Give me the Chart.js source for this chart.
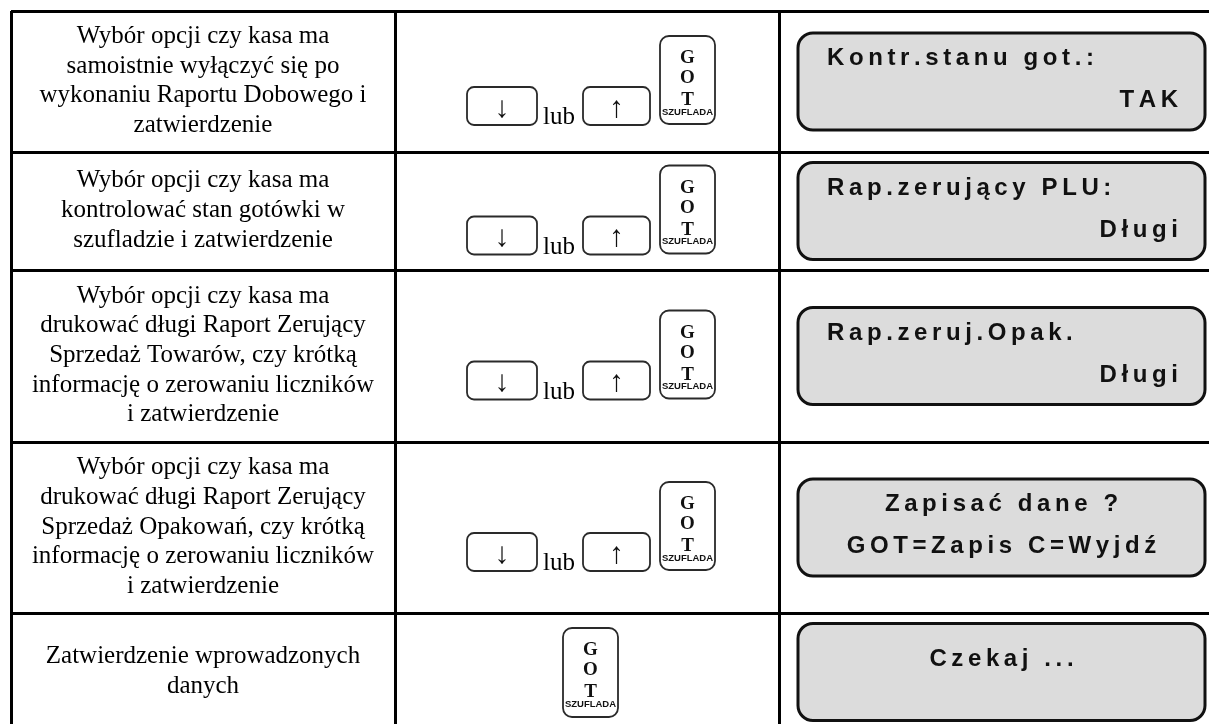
<!DOCTYPE html>
<html>
<head>
<meta charset="utf-8">
<script src="https://cdn.jsdelivr.net/npm/chart.js@4"></script>
<style>
  html, body { margin: 0; padding: 0; overflow: hidden; background: #fff; }
  #wrap { width: 1240px; height: 745px; }
</style>
</head>
<body>
<div id="wrap"><canvas id="table" width="1240" height="745"></canvas></div>
<script>
// cell contents, one entry per table row
const descriptions = [
  ["Wybór opcji czy kasa ma", "samoistnie wyłączyć się po", "wykonaniu Raportu Dobowego i", "zatwierdzenie"],
  ["Wybór opcji czy kasa ma", "kontrolować stan gotówki w", "szufladzie i zatwierdzenie"],
  ["Wybór opcji czy kasa ma", "drukować długi Raport Zerujący", "Sprzedaż Towarów, czy krótką", "informację o zerowaniu liczników", "i zatwierdzenie"],
  ["Wybór opcji czy kasa ma", "drukować długi Raport Zerujący", "Sprzedaż Opakowań, czy krótką", "informację o zerowaniu liczników", "i zatwierdzenie"],
  ["Zatwierdzenie wprowadzonych", "danych"]
];
const keys = [
  ["↓", "lub", "↑", "GOT"],
  ["↓", "lub", "↑", "GOT"],
  ["↓", "lub", "↑", "GOT"],
  ["↓", "lub", "↑", "GOT"],
  ["GOT"]
];
const gotLabel = ["G", "O", "T"];
const gotSub = "SZUFLADA";
const displayTop = ["Kontr.stanu got.:", "Rap.zerujący PLU:", "Rap.zeruj.Opak.", "Zapisać dane ?", "Czekaj ..."];
const displayBottom = ["TAK", "Długi", "Długi", "GOT=Zapis C=Wyjdź", ""];
const displayAlign = ["split", "split", "split", "center", "center"];

// table grid (scale units)
const colEdges = [0, 384, 768, 1213];
const rowEdges = [0, 141, 259, 431, 602, 720];

const mid = (a, i) => (a[i] + a[i + 1]) / 2;
function cellPoints(col) {
  return descriptions.map((d, i) => ({ x: mid(colEdges, col), y: mid(rowEdges, i) }));
}

function roundBox(ctx, x, y, w, h, r) {
  ctx.beginPath();
  ctx.moveTo(x + r, y);
  ctx.arcTo(x + w, y, x + w, y + h, r);
  ctx.arcTo(x + w, y + h, x, y + h, r);
  ctx.arcTo(x, y + h, x, y, r);
  ctx.arcTo(x, y, x + w, y, r);
  ctx.closePath();
}

function drawDescription(ctx, lines, cx, cy) {
  ctx.font = "25px 'Liberation Serif'";
  ctx.fillStyle = "#000";
  ctx.textAlign = "center";
  ctx.textBaseline = "alphabetic";
  const lh = 29.6;
  lines.forEach((t, k) => {
    ctx.fillText(t, cx, cy + 6 + (k - (lines.length - 1) / 2) * lh);
  });
}

function drawGot(ctx, x, y, w, h) {
  ctx.lineWidth = 1.8;
  ctx.strokeStyle = "#2a2a2a";
  roundBox(ctx, x, y, w, h, 9);
  ctx.stroke();
  ctx.fillStyle = "#111";
  ctx.textAlign = "center";
  ctx.textBaseline = "alphabetic";
  ctx.font = "bold 19px 'Liberation Serif'";
  const cx = x + w / 2;
  ctx.fillText(gotLabel[0], cx, y + 27);
  ctx.fillText(gotLabel[1], cx, y + 47);
  ctx.fillText(gotLabel[2], cx, y + 69);
  ctx.font = "bold 9.5px 'Liberation Sans'";
  ctx.fillText(gotSub, cx, y + 78.5);
}

function drawSmallKey(ctx, glyph, x, y, w, h) {
  ctx.lineWidth = 1.8;
  ctx.strokeStyle = "#2a2a2a";
  roundBox(ctx, x, y, w, h, 7);
  ctx.stroke();
  ctx.fillStyle = "#111";
  ctx.textAlign = "center";
  ctx.textBaseline = "middle";
  ctx.font = "30px 'Liberation Serif'";
  ctx.fillText(glyph, x + w / 2, y + 22);
}

function drawKeys(ctx, row, cx, cy) {
  if (row.length === 1) {
    drawGot(ctx, cx - 24, cy - 44, 55, 89);
    return;
  }
  const top = cy + 5.5;
  drawSmallKey(ctx, row[0], cx - 120, top, 70, 38);
  ctx.font = "25px 'Liberation Serif'";
  ctx.fillStyle = "#000";
  ctx.textAlign = "left";
  ctx.textBaseline = "alphabetic";
  ctx.fillText(row[1], cx - 44, cy + 42.5);
  drawSmallKey(ctx, row[2], cx - 4, top, 67, 38);
  drawGot(ctx, cx + 73, cy - 45.5, 55, 88);
}

function spacedText(ctx, text, x, y, align, gap) {
  const chars = Array.from(text);
  const widths = chars.map(c => ctx.measureText(c).width);
  const total = widths.reduce((a, b) => a + b, 0) + gap * (chars.length - 1);
  let pos = align === "left" ? x : align === "right" ? x - total : x - total / 2;
  ctx.textAlign = "left";
  chars.forEach((c, k) => {
    ctx.fillText(c, pos, y);
    pos += widths[k] + gap;
  });
}

function drawDisplay(ctx, top, bottom, align, cx, cy) {
  const w = 407, h = 97;
  const x = cx - w / 2, y = cy - h / 2;
  roundBox(ctx, x, y, w, h, 15);
  ctx.fillStyle = "#dcdcdc";
  ctx.fill();
  ctx.lineWidth = 3;
  ctx.strokeStyle = "#111";
  ctx.stroke();
  ctx.fillStyle = "#111";
  ctx.font = "bold 24px 'Liberation Sans'";
  ctx.textBaseline = "alphabetic";
  const gap = 4.6;
  if (align === "split") {
    spacedText(ctx, top, x + 29, y + 32, "left", gap);
    spacedText(ctx, bottom, x + w - 27, y + 74, "right", gap);
  } else if (bottom === "") {
    spacedText(ctx, top, cx, y + 42, "center", gap);
  } else {
    spacedText(ctx, top, cx, y + 32, "center", gap);
    spacedText(ctx, bottom, cx, y + 74, "center", gap);
  }
}

const tableCells = {
  id: "tableCells",
  afterDatasetsDraw(chart) {
    const ctx = chart.ctx;
    ctx.save();
    chart.getDatasetMeta(0).data.forEach((pt, i) => drawDescription(ctx, descriptions[i], pt.x, pt.y));
    chart.getDatasetMeta(1).data.forEach((pt, i) => drawKeys(ctx, keys[i], pt.x, pt.y));
    chart.getDatasetMeta(2).data.forEach((pt, i) =>
      drawDisplay(ctx, displayTop[i], displayBottom[i], displayAlign[i], pt.x, pt.y));
    ctx.restore();
  }
};

const gridAxis = (edges, extra) => Object.assign({
  type: "linear",
  min: edges[0],
  max: edges[edges.length - 1],
  afterBuildTicks: s => { s.ticks = edges.map(v => ({ value: v })); },
  ticks: { display: false },
  border: { display: false },
  grid: { color: "#000", lineWidth: 3, drawTicks: false }
}, extra);

new Chart(document.getElementById("table"), {
  type: "scatter",
  data: {
    datasets: [0, 1, 2].map(c => ({
      data: cellPoints(c),
      pointRadius: 0,
      pointHoverRadius: 0,
      showLine: false
    }))
  },
  options: {
    responsive: false,
    devicePixelRatio: 1,
    animation: false,
    events: [],
    layout: { padding: { left: 11, top: 11, right: 16, bottom: 14 } },
    plugins: { legend: { display: false }, tooltip: { enabled: false } },
    scales: {
      x: gridAxis(colEdges, { position: "bottom" }),
      y: gridAxis(rowEdges, { reverse: true })
    }
  },
  plugins: [tableCells]
});
</script>
</body>
</html>
